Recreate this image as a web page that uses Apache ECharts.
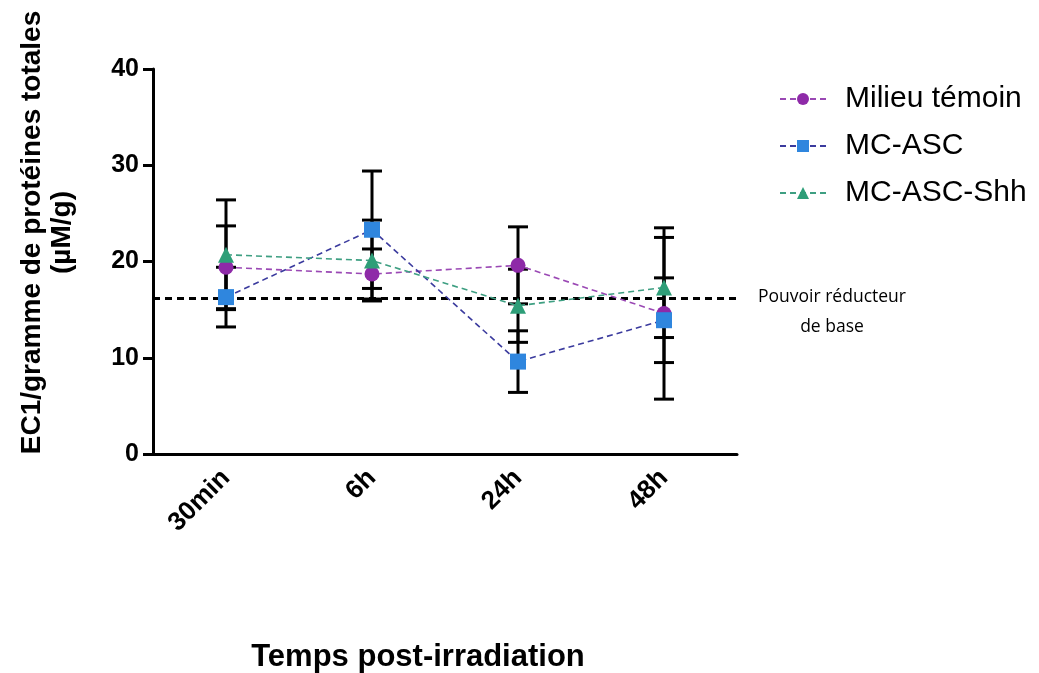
<!DOCTYPE html>
<html><head><meta charset="utf-8">
<script src="https://cdn.jsdelivr.net/npm/echarts@6/dist/echarts.min.js"></script>
<style>html,body{margin:0;padding:0;background:#fff;}#c{width:1039px;height:673px;}</style>
</head><body><div id="c"></div>
<script>
const categories = ['30min', '6h', '24h', '48h'];
const seriesNames = ['Milieu témoin', 'MC-ASC', 'MC-ASC-Shh'];
const milieuMean = [19.4, 18.7, 19.6, 14.6];
const milieuErr  = [4.3, 2.6, 4.0, 8.9];
const ascMean    = [16.3, 23.3, 9.6, 13.9];
const ascErr     = [3.1, 6.1, 3.2, 4.4];
const shhMean    = [20.7, 20.1, 15.4, 17.3];
const shhErr     = [5.7, 4.2, 3.8, 5.2];
const baseline = 16.2;
const baselineLabel = 'Pouvoir réducteur\nde base';
const yTicks = [0, 10, 20, 30, 40];

const markerColors = ['#8e2aa8', '#2f86de', '#2e9e78'];
const lineColors = ['#9a48b4', '#3b3b9e', '#3e9f82'];
const symbols = ['circle', 'rect', 'triangle'];
const symbolSizes = [15, 16, 16];
const means = [milieuMean, ascMean, shhMean];
const errs = [milieuErr, ascErr, shhErr];
const FONT = 'Liberation Sans, Arial, sans-serif';

const chart = echarts.init(document.getElementById('c'));
const series = [];
means.forEach((m, i) => {
  series.push({
    name: seriesNames[i], type: 'line', data: m, z: 5,
    symbol: symbols[i], symbolSize: symbolSizes[i],
    itemStyle: { color: markerColors[i] },
    lineStyle: { color: lineColors[i], type: [6, 4], width: 1.6 },
    markLine: i === 0 ? {
      silent: true, symbol: 'none',
      lineStyle: { color: '#000', type: [7, 5], width: 3 },
      data: [{ yAxis: baseline }],
      label: {
        show: true, position: 'end', formatter: baselineLabel,
        color: '#000', fontSize: 17.5, fontFamily: 'Open Sans, Liberation Sans, sans-serif',
        align: 'center', lineHeight: 30, offset: [90, 14]
      }
    } : undefined
  });
  series.push({
    type: 'custom', z: 3,
    data: m.map((v, k) => [k, v - errs[i][k], v + errs[i][k]]),
    renderItem: function (params, api) {
      const x = api.value(0);
      const lo = api.coord([x, api.value(1)]);
      const hi = api.coord([x, api.value(2)]);
      const w = 10;
      const st = { stroke: '#000', lineWidth: 3 };
      return { type: 'group', children: [
        { type: 'line', shape: { x1: lo[0], y1: lo[1], x2: hi[0], y2: hi[1] }, style: st },
        { type: 'line', shape: { x1: lo[0] - w, y1: lo[1], x2: lo[0] + w, y2: lo[1] }, style: st },
        { type: 'line', shape: { x1: hi[0] - w, y1: hi[1], x2: hi[0] + w, y2: hi[1] }, style: st }
      ]};
    },
    encode: { x: 0, y: [1, 2] }
  });
});

chart.setOption({
  animation: false,
  grid: { left: 153, right: 302, top: 69, bottom: 219, outerBoundsMode: 'none' },
  legend: {
    data: seriesNames, orient: 'vertical', left: 774, top: 79, itemGap: 17,
    itemWidth: 46, itemHeight: 15,
    textStyle: { fontSize: 30, color: '#000', fontFamily: FONT, padding: [0, 0, 0, 14] }
  },
  xAxis: {
    type: 'category', data: categories, boundaryGap: true,
    name: 'Temps post-irradiation', nameLocation: 'middle', nameGap: 188,
    nameTextStyle: { fontSize: 31, fontWeight: 'bold', color: '#000', fontFamily: FONT, padding: [0, 54, 0, 0] },
    axisLine: { lineStyle: { color: '#000', width: 3 } },
    axisTick: { alignWithLabel: true, length: 10, lineStyle: { width: 3, color: '#000' } },
    axisLabel: { rotate: 45, fontSize: 26, fontWeight: 'bold', color: '#000', margin: 20, fontFamily: FONT }
  },
  yAxis: {
    type: 'value', min: yTicks[0], max: yTicks[yTicks.length - 1], interval: 10,
    name: 'EC1/gramme de protéines totales\n(µM/g)', nameLocation: 'middle', nameGap: 76,
    nameTextStyle: { fontSize: 28, fontWeight: 'bold', color: '#000', lineHeight: 30,
      fontFamily: FONT, padding: [0, 0, 0, 58] },
    splitLine: { show: false },
    axisLine: { show: true, lineStyle: { color: '#000', width: 3 } },
    axisTick: { show: true, length: 10, lineStyle: { width: 3, color: '#000' } },
    axisLabel: { fontSize: 25, fontWeight: 'bold', color: '#000', margin: 14, fontFamily: FONT }
  },
  series: series
});
</script></body></html>
